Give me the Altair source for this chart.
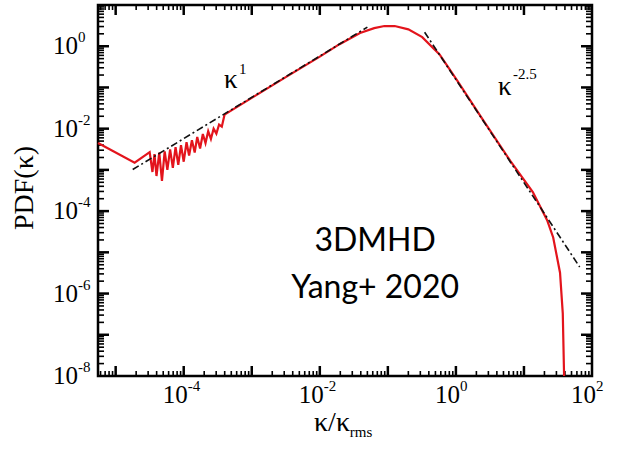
import altair as alt
import pandas as pd

# ---------------- data ----------------
kappa = [5.5e-6, 1.9e-5,
         3.16e-5, 3.47e-5, 3.72e-5, 3.98e-5, 4.37e-5, 4.79e-5, 5.25e-5, 5.75e-5,
         6.31e-5, 6.92e-5, 7.59e-5, 8.32e-5, 9.12e-5, 1.0e-4, 1.10e-4, 1.20e-4,
         1.32e-4, 1.45e-4, 1.58e-4, 1.74e-4, 1.91e-4, 2.09e-4, 2.29e-4, 2.51e-4,
         2.75e-4, 3.02e-4, 3.31e-4, 3.63e-4, 3.98e-4,
         1.0e-3, 3.16e-3, 1.0e-2, 1.95e-2, 3.9e-2, 6.3e-2, 8.9e-2, 0.126,
         0.2, 0.32, 0.575, 1.035, 2.51, 6.3, 13.5, 21.9, 26.9, 33.9, 37.2, 38.9]
pdf = [4.5e-3, 1.5e-3,
       2.69e-3, 8.9e-4, 2.4e-3, 7.1e-4, 2.63e-3, 5.4e-4, 2.82e-3, 1.0e-3,
       3.16e-3, 1.12e-3, 3.55e-3, 1.32e-3, 3.98e-3, 1.58e-3, 4.68e-3, 2.24e-3,
       5.25e-3, 2.63e-3, 6.31e-3, 3.31e-3, 7.41e-3, 4.47e-3, 8.71e-3, 5.62e-3,
       1.0e-2, 7.59e-3, 1.26e-2, 1.12e-2, 2.19e-2,
       5.6e-2, 0.178, 0.56, 1.12, 2.09, 2.75, 3.09, 3.09,
       2.57, 1.66, 0.63, 0.151, 1.62e-2, 1.66e-3, 2.9e-4, 6.0e-5, 2.3e-5, 3.2e-6, 3.3e-7, 1e-8]

k1_x = [1.78e-5, 5.0e-2]
k1_y = [1.02e-3, 2.9]
k25_x = [0.347, 66.0]
k25_y = [2.19, 4.4e-6]

kappa_lbl_x = [4.9e-4, 5.25]
kappa_lbl_y = [0.151, 0.102]
kappa_lbl_t = ["κ", "κ"]
sup_lbl_x = [6.5e-4, 6.9]
sup_lbl_y = [0.28, 0.21]
sup_lbl_t = ["1", "-2.5"]
note_x = [0.065, 0.065]
note_y = [1.86e-5, 1.35e-6]
note_t = ["3DMHD", "Yang+ 2020"]

x_title = ["κ/κ"]
x_title_sub = ["rms"]
y_title = ["PDF(κ)"]

X_DOMAIN = [5.5e-6, 100]
Y_DOMAIN = [1e-8, 10]
x_label_vals = [1e-4, 1e-2, 1, 1e2]
x_label_base = ["10", "10", "10", "10"]
x_label_exp = ["-4", "-2", "0", "2"]
y_label_vals = [1e-8, 1e-6, 1e-4, 1e-2, 1]
y_label_base = ["10", "10", "10", "10", "10"]
y_label_exp = ["-8", "-6", "-4", "-2", "0"]
x_major_vals = [10.0 ** n for n in range(-5, 2)]
y_major_vals = [10.0 ** n for n in range(-7, 1)]
x_minor_vals = [m * 10.0 ** n for n in range(-6, 2) for m in range(2, 10)
                if X_DOMAIN[0] <= m * 10.0 ** n <= X_DOMAIN[1]]
y_minor_vals = [m * 10.0 ** n for n in range(-8, 1) for m in range(2, 10)]

W, H = 494, 371
SERIF = "Liberation Serif"
MAJOR_LEN, MINOR_LEN = 10, 5

xs = alt.Scale(type="log", domain=X_DOMAIN, nice=False)
ys = alt.Scale(type="log", domain=Y_DOMAIN, nice=False)

df_red = pd.DataFrame({"x": kappa, "y": pdf})
df_k1 = pd.DataFrame({"x": k1_x, "y": k1_y})
df_k25 = pd.DataFrame({"x": k25_x, "y": k25_y})
df_kl = pd.DataFrame({"x": kappa_lbl_x, "y": kappa_lbl_y, "t": kappa_lbl_t})
df_sl = pd.DataFrame({"x": sup_lbl_x, "y": sup_lbl_y, "t": sup_lbl_t})
df_nt = pd.DataFrame({"x": note_x, "y": note_y, "t": note_t})
df_xl = pd.DataFrame({"v": x_label_vals, "b": x_label_base, "e": x_label_exp})
df_yl = pd.DataFrame({"v": y_label_vals, "b": y_label_base, "e": y_label_exp})


# inward tick marks on all four sides of the frame
def x_ticks(vals, length, width, top):
    d = pd.DataFrame({"xt": vals})
    y0, y1 = (0, length) if top else (H, H - length)
    return alt.Chart(d).mark_rule(color="black", strokeWidth=width).encode(
        x=alt.X("xt:Q", scale=xs, axis=None),
        y=alt.value(y0), y2=alt.value(y1))


def y_ticks(vals, length, width, left):
    d = pd.DataFrame({"yt": vals})
    x0, x1 = (0, length) if left else (W, W - length)
    return alt.Chart(d).mark_rule(color="black", strokeWidth=width).encode(
        y=alt.Y("yt:Q", scale=ys, axis=None),
        x=alt.value(x0), x2=alt.value(x1))


tick_layers = [
    x_ticks(x_major_vals, MAJOR_LEN, 2.5, True), x_ticks(x_major_vals, MAJOR_LEN, 2.5, False),
    x_ticks(x_minor_vals, MINOR_LEN, 1.6, True), x_ticks(x_minor_vals, MINOR_LEN, 1.6, False),
    y_ticks(y_major_vals, MAJOR_LEN + 1, 2.5, True), y_ticks(y_major_vals, MAJOR_LEN + 1, 2.5, False),
    y_ticks(y_minor_vals, MINOR_LEN + 1, 1.6, True), y_ticks(y_minor_vals, MINOR_LEN + 1, 1.6, False),
]

red = alt.Chart(df_red).mark_line(color="#e3141c", strokeWidth=2.2).encode(
    x=alt.X("x:Q", scale=xs, axis=None),
    y=alt.Y("y:Q", scale=ys, axis=None),
)
k1 = alt.Chart(df_k1).mark_line(color="#111111", strokeWidth=1.6, strokeDash=[7, 3, 2, 3]).encode(
    x=alt.X("x:Q", scale=xs, axis=None),
    y=alt.Y("y:Q", scale=ys, axis=None),
)
k25 = alt.Chart(df_k25).mark_line(color="#111111", strokeWidth=1.6, strokeDash=[7, 3, 2, 3]).encode(
    x=alt.X("x:Q", scale=xs, axis=None),
    y=alt.Y("y:Q", scale=ys, axis=None),
)

# tick labels: base "10" plus a raised exponent, at the scale positions of their values
xl_base = alt.Chart(df_xl).mark_text(font=SERIF, fontSize=25, color="black", align="right",
                                     baseline="top", dx=4).encode(
    x=alt.X("v:Q", scale=xs, axis=None), y=alt.value(H + 7), text="b:N")
xl_exp = alt.Chart(df_xl).mark_text(font=SERIF, fontSize=15, color="black", align="left",
                                    baseline="top", dx=4).encode(
    x=alt.X("v:Q", scale=xs, axis=None), y=alt.value(H + 3), text="e:N")
yl_base = alt.Chart(df_yl).mark_text(font=SERIF, fontSize=25, color="black", align="right",
                                     baseline="middle").encode(
    y=alt.Y("v:Q", scale=ys, axis=None), x=alt.value(-20), text="b:N")
yl_exp = alt.Chart(df_yl).mark_text(font=SERIF, fontSize=15, color="black", align="left",
                                    baseline="middle", dy=-9).encode(
    y=alt.Y("v:Q", scale=ys, axis=None), x=alt.value(-20), text="e:N")

# axis titles
xt = alt.Chart(pd.DataFrame({"t": x_title})).mark_text(
    font=SERIF, fontSize=28, color="black", align="center", baseline="alphabetic").encode(
    x=alt.value(234), y=alt.value(H + 55), text="t:N")
xts = alt.Chart(pd.DataFrame({"t": x_title_sub})).mark_text(
    font=SERIF, fontSize=15, color="black", align="center", baseline="alphabetic").encode(
    x=alt.value(263), y=alt.value(H + 61), text="t:N")
yt = alt.Chart(pd.DataFrame({"t": y_title})).mark_text(
    font=SERIF, fontSize=28, color="black", align="center", baseline="middle", angle=270).encode(
    x=alt.value(-73), y=alt.value(183), text="t:N")

kl = alt.Chart(df_kl).mark_text(font=SERIF, fontSize=27, color="black", align="center", baseline="middle").encode(
    x=alt.X("x:Q", scale=xs, axis=None),
    y=alt.Y("y:Q", scale=ys, axis=None),
    text="t:N",
)
sl = alt.Chart(df_sl).mark_text(font=SERIF, fontSize=15, color="black", align="left", baseline="middle").encode(
    x=alt.X("x:Q", scale=xs, axis=None),
    y=alt.Y("y:Q", scale=ys, axis=None),
    text="t:N",
)
nt = alt.Chart(df_nt).mark_text(font="Lato", fontSize=32, color="black", align="center", baseline="middle").encode(
    x=alt.X("x:Q", scale=xs, axis=None),
    y=alt.Y("y:Q", scale=ys, axis=None),
    text="t:N",
)

chart = alt.layer(*tick_layers, red, k1, k25, kl, sl, nt,
                  xl_base, xl_exp, yl_base, yl_exp, xt, xts, yt).properties(
    width=W, height=H,
    autosize=alt.AutoSizeParams(type="none"),
    padding={"left": 98, "top": 5, "right": 39, "bottom": 77},
    background="white",
).configure_view(stroke="black", strokeWidth=2.5)

chart.save("out.html", embed_options={"renderer": "svg", "actions": False})
